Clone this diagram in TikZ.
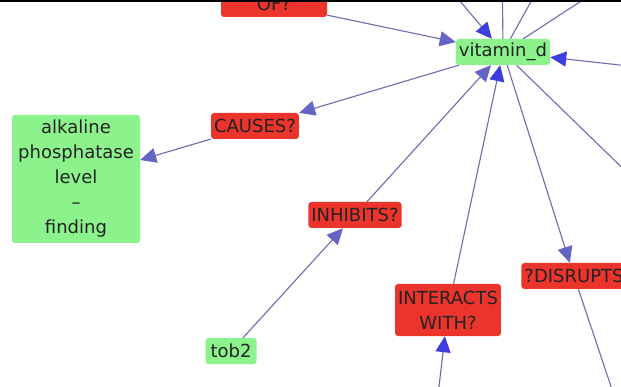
\documentclass[tikz,border=0pt]{standalone}
\usepackage{fontspec}
\setmainfont{DejaVu Sans}
\usetikzlibrary{arrows.meta}

\definecolor{nodered}{RGB}{235,52,44}
\definecolor{nodegreen}{RGB}{140,242,140}
\definecolor{edgeblue}{RGB}{108,108,178}
\definecolor{headlight}{RGB}{100,100,195}
\definecolor{headdark}{RGB}{62,62,222}
\definecolor{labelgray}{RGB}{35,35,35}

\begin{document}
\begin{tikzpicture}[x=1pt,y=-1pt,
    box/.style={rounded corners=3pt,text=labelgray,align=center,
      font=\fontsize{18}{25}\selectfont,inner xsep=3pt,inner ysep=0pt,minimum height=26pt},
    concept/.style={box,fill=nodegreen},
    relation/.style={box,fill=nodered},
    link/.style={draw=edgeblue,line width=1.1pt},
    tolight/.style={link,-{Triangle[length=16pt,width=15pt,color=headlight]}},
    todark/.style={link,-{Triangle[length=16pt,width=15pt,color=headdark]}}]

        \useasboundingbox (0,0) rectangle (621,387);
        \clip (0,0) rectangle (621,387);
        \fill[white] (0,0) rectangle (621,387);

        % ends that lie outside the frame
        \coordinate (t1) at (427,-38);
        \coordinate (t2) at (502,-60);
        \coordinate (t3) at (553,-38);
        \coordinate (t4) at (641,-38);
        \coordinate (r1) at (700,74);
        \coordinate (r2) at (680,224);
        \coordinate (b1) at (428,480);
        \coordinate (b2) at (641,476);

        \begin{scope}[every node/.style={concept}]
          \node (vit)  at (503,52)  {vitamin\_d};
          \node (alk)  at (76,179)  [minimum width=128pt,minimum height=128pt]
                                    {alkaline\\phosphatase\\level\\--\\finding};
          \node (tob)  at (231,351) [minimum width=51pt] {tob2};
        \end{scope}

        \begin{scope}[every node/.style={relation}]
          \node (of)   at (274,4)   [minimum width=106pt] {OF?};
          \node (cau)  at (255,126) {CAUSES?};
          \node (inh)  at (355,215) {INHIBITS?};
          \node (int)  at (448,310) [minimum height=52pt] {INTERACTS\\WITH?};
          \node (dis)  at (574,276) {?DISRUPTS};
        \end{scope}

        \draw[tolight] (of)  -- (vit);
        \draw[todark]  (t1)  -- (vit);
        \draw[link]    (vit) -- (t2);
        \draw[link]    (vit) -- (t3);
        \draw[link]    (vit) -- (t4);
        \draw[todark]  (r1)  -- (vit);
        \draw[link]    (vit) -- (r2);
        \draw[tolight] (vit) -- (cau);
        \draw[tolight] (cau) -- (alk);
        \draw[tolight] (inh) -- (vit);
        \draw[tolight] (tob) -- (inh);
        \draw[todark]  (int) -- (vit);
        \draw[todark]  (b1)  -- (int);
        \draw[tolight] (vit) -- (dis);
        \draw[link]    (dis) -- (b2);

        \fill[black] (0,0) rectangle (621,2.5);

      \end{tikzpicture}
\end{document}
